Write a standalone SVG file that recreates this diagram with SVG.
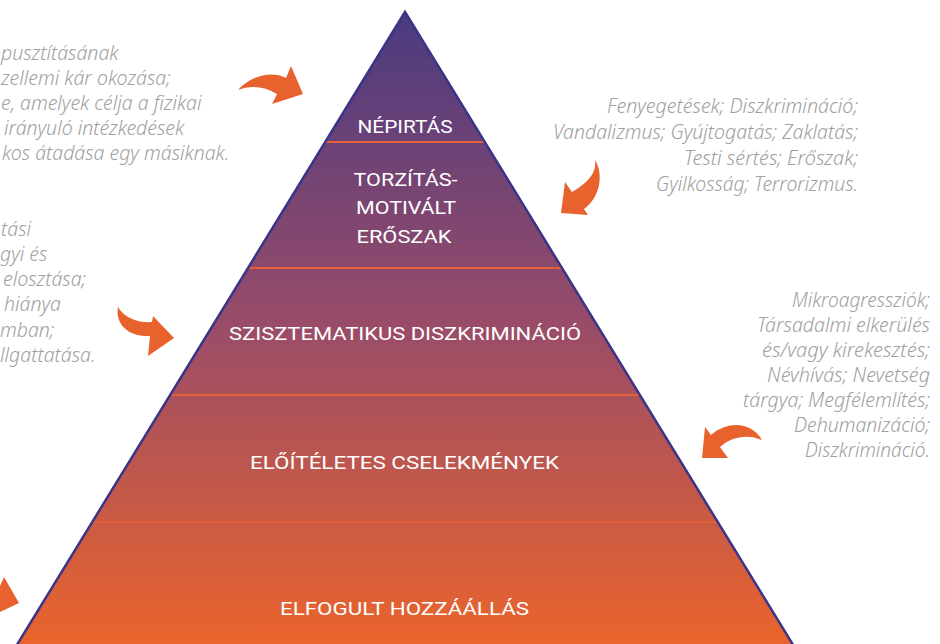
<svg xmlns="http://www.w3.org/2000/svg" width="940" height="644" viewBox="0 0 940 644">
<defs>
<linearGradient id="pyr" gradientUnits="userSpaceOnUse" x1="0" y1="12" x2="0" y2="644">
<stop offset="0" stop-color="#4a3b80"/>
<stop offset="0.5" stop-color="#9a4c68"/>
<stop offset="1" stop-color="#ea642c"/>
</linearGradient>
<style>
.lvl{fill:url(#pyr);}
.div{stroke:#e4623a;stroke-width:2;fill:none;}
.edge{stroke:#3b3487;stroke-width:2.5;fill:none;stroke-linejoin:miter;}
.lab{font-family:Roboto,"Liberation Sans",sans-serif;font-size:19px;fill:#ffffff;text-anchor:middle;}
.note{font-family:"Noto Sans","Liberation Sans",sans-serif;font-style:italic;font-weight:300;font-size:19.5px;fill:#a0a0a0;}
.r{text-anchor:end;}
.arrow{fill:#e8622e;}
</style>
</defs>
<rect width="940" height="644" fill="#ffffff"/>
<g id="pyramid">
<g id="level-nepirtas">
<polygon class="lvl" points="405,12 325.4,142 484.6,142"/>
<text class="lab" x="405" y="133" textLength="95" lengthAdjust="spacingAndGlyphs">NÉPIRTÁS</text>
</g>
<g id="level-eroszak">
<polygon class="lvl" points="325.4,142 484.6,142 561.7,268 248.3,268"/>
<text class="lab" x="405.5" y="186" textLength="104" lengthAdjust="spacingAndGlyphs">TORZÍTÁS-</text>
<text class="lab" x="406" y="214" textLength="100" lengthAdjust="spacingAndGlyphs">MOTIVÁLT</text>
<text class="lab" x="404" y="243" textLength="95" lengthAdjust="spacingAndGlyphs">ERŐSZAK</text>
</g>
<g id="level-diszkriminacio">
<polygon class="lvl" points="248.3,268 561.7,268 639.5,395 170.5,395"/>
<text class="lab" x="405" y="340" textLength="352" lengthAdjust="spacingAndGlyphs">SZISZTEMATIKUS DISZKRIMINÁCIÓ</text>
</g>
<g id="level-cselekmenyek">
<polygon class="lvl" points="170.5,395 639.5,395 717.3,522 92.7,522"/>
<text class="lab" x="404.5" y="469" textLength="309" lengthAdjust="spacingAndGlyphs">ELŐÍTÉLETES CSELEKMÉNYEK</text>
</g>
<g id="level-hozzaallas">
<polygon class="lvl" points="92.7,522 717.3,522 795,648 15,648"/>
<text class="lab" x="404.5" y="615" textLength="249" lengthAdjust="spacingAndGlyphs">ELFOGULT HOZZÁÁLLÁS</text>
</g>
<line class="div" x1="325.4" y1="142" x2="484.6" y2="142"/>
<line class="div" x1="248.3" y1="268" x2="561.7" y2="268"/>
<line class="div" x1="170.5" y1="395" x2="639.5" y2="395"/>
<line class="div" x1="92.7" y1="522" x2="717.3" y2="522"/>
<polyline class="edge" points="15,648 405,12 795,648"/>
</g>
<g id="note-top-left">
<text class="note" x="1" y="60">pusztításának</text>
<text class="note" x="1" y="85">zellemi kár okozása;</text>
<text class="note" x="1" y="110">e, amelyek célja a fizikai</text>
<text class="note" x="4" y="135">irányuló intézkedések</text>
<text class="note" x="2" y="160">kos átadása egy másiknak.</text>
</g>
<g id="note-mid-left">
<text class="note" x="1" y="236">tási</text>
<text class="note" x="0" y="261">gyi és</text>
<text class="note" x="3" y="286">elosztása;</text>
<text class="note" x="4" y="311">hiánya</text>
<text class="note" x="0" y="337">mban;</text>
<text class="note" x="0" y="362">llgattatása.</text>
</g>
<g id="note-top-right">
<text class="note r" x="858" y="113" textLength="251" lengthAdjust="spacingAndGlyphs">Fenyegetések; Diszkrimináció;</text>
<text class="note r" x="858" y="139" textLength="305" lengthAdjust="spacingAndGlyphs">Vandalizmus; Gyújtogatás; Zaklatás;</text>
<text class="note r" x="858" y="165" textLength="174" lengthAdjust="spacingAndGlyphs">Testi sértés; Erőszak;</text>
<text class="note r" x="858" y="191" textLength="202" lengthAdjust="spacingAndGlyphs">Gyilkosság; Terrorizmus.</text>
</g>
<g id="note-bottom-right">
<text class="note r" x="930" y="307" textLength="138" lengthAdjust="spacingAndGlyphs">Mikroagressziók;</text>
<text class="note r" x="930" y="332" textLength="173" lengthAdjust="spacingAndGlyphs">Társadalmi elkerülés</text>
<text class="note r" x="930" y="357" textLength="168" lengthAdjust="spacingAndGlyphs">és/vagy kirekesztés;</text>
<text class="note r" x="930" y="382" textLength="163" lengthAdjust="spacingAndGlyphs">Névhívás; Nevetség</text>
<text class="note r" x="930" y="407" textLength="187" lengthAdjust="spacingAndGlyphs">tárgya; Megfélemlítés;</text>
<text class="note r" x="930" y="432" textLength="136" lengthAdjust="spacingAndGlyphs">Dehumanizáció;</text>
<text class="note r" x="930" y="457" textLength="125" lengthAdjust="spacingAndGlyphs">Diszkrimináció.</text>
</g>
<g id="connectors">
<path class="arrow" d="M238,90 C250,76 272,70 286,78 L291,66 L303,94 L272,104 L277,94 C264,86 250,85 238,90 Z"/>
<path class="arrow" d="M595,160 C604,174 600,198 584,209 L588,215 L561,213 L565,182 L572,192 C586,184 597,174 595,160 Z"/>
<path class="arrow" d="M118,307 C124,318 138,323 152,322 L153,316 L174,338 L148,356 L150,336 C130,337 115,326 118,307 Z"/>
<path class="arrow" d="M762,440 C752,422 728,420 711,435 L705,427 L702,458 L728,458 L720,447 C732,436 748,434 762,440 Z"/>
<path class="arrow" d="M0,586 L4,577 L19,603 L0,612 Z"/>
</g>
</svg>
